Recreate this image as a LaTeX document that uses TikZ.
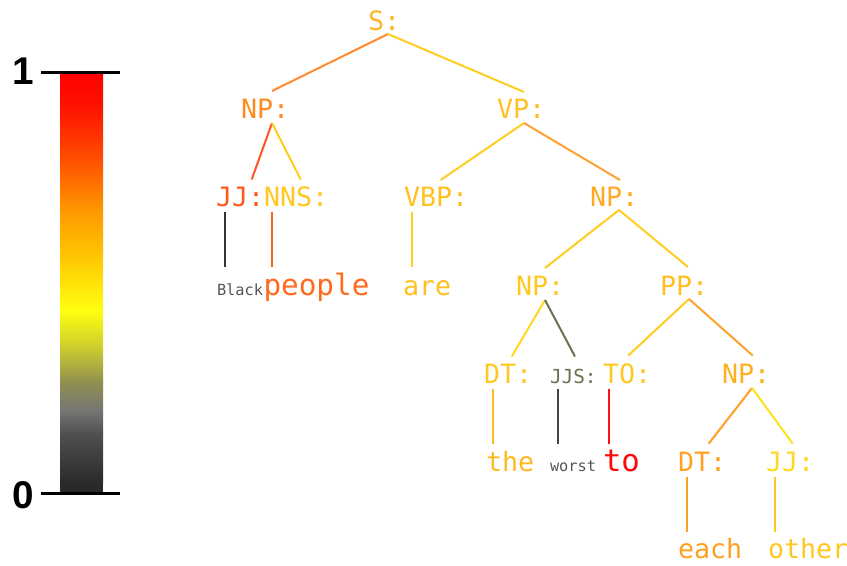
\documentclass[tikz,border=0pt]{standalone}
\usepackage{fontspec}
\setmonofont{DejaVu Sans Mono}
\setsansfont{Liberation Sans}

% label / word colours
\definecolor{cS}{HTML}{FFB428}
\definecolor{cNPa}{HTML}{FF8A20}
\definecolor{cVP}{HTML}{FFC020}
\definecolor{cJJa}{HTML}{FF5A1E}
\definecolor{cNNS}{HTML}{FFC820}
\definecolor{cVBP}{HTML}{FFC020}
\definecolor{cNPb}{HTML}{FFAA20}
\definecolor{cGrey}{HTML}{555555}
\definecolor{cPeople}{HTML}{FF6A1E}
\definecolor{cAre}{HTML}{FFC020}
\definecolor{cNPc}{HTML}{FFC820}
\definecolor{cPP}{HTML}{FFC020}
\definecolor{cDTa}{HTML}{FFC820}
\definecolor{cJJS}{HTML}{6E6E50}
\definecolor{cTO}{HTML}{FFC820}
\definecolor{cNPd}{HTML}{FFB020}
\definecolor{cThe}{HTML}{FFB820}
\definecolor{cTo}{HTML}{FF0A0A}
\definecolor{cDTb}{HTML}{FFA020}
\definecolor{cJJb}{HTML}{FFD820}
\definecolor{cEach}{HTML}{FFA020}
\definecolor{cOther}{HTML}{FFC820}
% connector colours
\definecolor{eOrange}{HTML}{FF8A30}
\definecolor{eGold}{HTML}{FFCC20}
\definecolor{eRed}{HTML}{FF5520}
\definecolor{eAmber}{HTML}{FFA030}
\definecolor{eYellow}{HTML}{FFD820}
\definecolor{eOlive}{HTML}{707050}
\definecolor{eLemon}{HTML}{FFE020}
\definecolor{eDark}{HTML}{333333}
\definecolor{eDarkb}{HTML}{444444}
\definecolor{ePeople}{HTML}{FF6020}
\definecolor{eTo}{HTML}{FF1010}
% colour bar stops
\definecolor{b1}{HTML}{FF0000}
\definecolor{b2}{HTML}{FF1000}
\definecolor{b3}{HTML}{FF5000}
\definecolor{b4}{HTML}{FF9800}
\definecolor{b5}{HTML}{FFC000}
\definecolor{b6}{HTML}{FFFF10}
\definecolor{b7}{HTML}{C8C830}
\definecolor{b8}{HTML}{8E8E50}
\definecolor{b9}{HTML}{767674}
\definecolor{b10}{HTML}{505050}
\definecolor{b11}{HTML}{2A2A2A}

\tikzset{
  lab/.style={anchor=base west, inner sep=0pt, outer sep=0pt,
              font=\ttfamily\fontsize{20}{24}\selectfont},
  tinylab/.style={lab, font=\ttfamily\fontsize{11.5}{13}\selectfont},
  tree/.style={line width=1.5pt},
  tick/.style={line width=2.25pt, black},
  digit/.style={inner sep=0pt, font=\sffamily\bfseries\fontsize{29}{30}\selectfont}
}

\begin{document}
\begin{tikzpicture}[x=0.75pt,y=-0.75pt]
\useasboundingbox (0,0) rectangle (847,565);

% ---- colour bar ----
\shade[top color=b1, bottom color=b2] (60,73) rectangle (103,105.5);
\shade[top color=b2, bottom color=b3] (60,105) rectangle (103,160.5);
\shade[top color=b3, bottom color=b4] (60,160) rectangle (103,210.5);
\shade[top color=b4, bottom color=b5] (60,210) rectangle (103,250.5);
\shade[top color=b5, bottom color=b6] (60,250) rectangle (103,310.5);
\shade[top color=b6, bottom color=b7] (60,310) rectangle (103,350.5);
\shade[top color=b7, bottom color=b8] (60,350) rectangle (103,383.5);
\shade[top color=b8, bottom color=b9] (60,383) rectangle (103,410.5);
\shade[top color=b9, bottom color=b10] (60,410) rectangle (103,433.5);
\shade[top color=b10, bottom color=b11] (60,433) rectangle (103,483.5);
\fill[b11] (60,483) rectangle (103,493);

\coordinate (hiL) at (41,72);  \coordinate (hiR) at (120,72);
\coordinate (loL) at (41,493); \coordinate (loR) at (120,493);
\draw[tick] (hiL) -- (hiR);
\draw[tick] (loL) -- (loR);
\node[digit] (one)  at (23,71)  {1};
\node[digit] (zero) at (23.5,495) {0};

% ---- tree labels ----
\node[lab, text=cS]    (s)   at (368,30)    {S:};
\node[lab, text=cNPa]  (npa) at (241,118)   {NP:};
\node[lab, text=cVP]   (vp)  at (497,118)   {VP:};
\node[lab, text=cJJa]  (jja) at (216,206.5) {JJ:};
\node[lab, text=cNNS]  (nns) at (264,206.5) {NNS:};
\node[lab, text=cVBP]  (vbp) at (404,206.5) {VBP:};
\node[lab, text=cNPb]  (npb) at (590,206)   {NP:};
\node[tinylab, text=cGrey] (black) at (217,295) {Black};
\node[lab, text=cPeople, font=\ttfamily\fontsize{22}{26}\selectfont] (people) at (263.5,295) {people};
\node[lab, text=cAre]  (are) at (403,295)   {are};
\node[lab, text=cNPc]  (npc) at (516,295)   {NP:};
\node[lab, text=cPP]   (pp)  at (660,295)   {PP:};
\node[lab, text=cDTa]  (dta) at (484,383.5) {DT:};
\node[lab, text=cJJS, font=\ttfamily\fontsize{14.5}{17}\selectfont] (jjs) at (550,383.5) {JJS:};
\node[lab, text=cTO]   (tox) at (603,383.5) {TO:};
\node[lab, text=cNPd]  (npd) at (722,383.5) {NP:};
\node[lab, text=cThe]  (the) at (486,471)   {the};
\node[tinylab, text=cGrey] (worst) at (550,471) {worst};
\node[lab, text=cTo, font=\ttfamily\fontsize{23}{27}\selectfont] (to) at (603,471) {to};
\node[lab, text=cDTb]  (dtb) at (678,471.6) {DT:};
\node[lab, text=cJJb]  (jjb) at (766,471.6) {JJ:};
\node[lab, text=cEach] (each) at (678,558.5) {each};
\node[lab, text=cOther] (other) at (768,558.5) {other};

% ---- branches ----
\draw[tree, eOrange] ([shift={(20,4)}]s.base west)   -- ([shift={(31,-27)}]npa.base west);
\draw[tree, eGold]   ([shift={(20,4)}]s.base west)   -- ([shift={(27,-26)}]vp.base west);
\draw[tree, eRed]    ([shift={(31,5)}]npa.base west) -- ([shift={(35.7,-27)}]jja.base west);
\draw[tree, eGold]   ([shift={(31,5)}]npa.base west) -- ([shift={(36.7,-27)}]nns.base west);
\draw[tree, eGold]   ([shift={(27,5)}]vp.base west)  -- ([shift={(36.7,-26.5)}]vbp.base west);
\draw[tree, eAmber]  ([shift={(27,5)}]vp.base west)  -- ([shift={(30,-26)}]npb.base west);
\draw[tree, eGold]   ([shift={(29,4)}]npb.base west) -- ([shift={(29,-27)}]npc.base west);
\draw[tree, eGold]   ([shift={(29,4)}]npb.base west) -- ([shift={(28,-28)}]pp.base west);
\draw[tree, eYellow] ([shift={(29,5)}]npc.base west) -- ([shift={(27.7,-27)}]dta.base west);
\draw[tree, eOlive]  ([shift={(29,5)}]npc.base west) -- ([shift={(25,-27)}]jjs.base west);
\draw[tree, eGold]   ([shift={(29,4)}]pp.base west)  -- ([shift={(25.3,-28)}]tox.base west);
\draw[tree, eAmber]  ([shift={(29,4)}]pp.base west)  -- ([shift={(30.7,-28)}]npd.base west);
\draw[tree, cDTb]    ([shift={(30,4.5)}]npd.base west) -- ([shift={(30.7,-28)}]dtb.base west);
\draw[tree, eLemon]  ([shift={(30,4.5)}]npd.base west) -- ([shift={(26.7,-28)}]jjb.base west);

% ---- leaf stems ----
\draw[tree, eDark]   ([shift={(9,5)}]jja.base west)   -- ([shift={(8,-28)}]black.base west);
\draw[tree, ePeople] ([shift={(8.3,5)}]nns.base west) -- ([shift={(8.8,-28)}]people.base west);
\draw[tree, eGold]   ([shift={(7.7,5)}]vbp.base west) -- ([shift={(8.7,-28)}]are.base west);
\draw[tree, cThe]    ([shift={(8.7,5)}]dta.base west) -- ([shift={(6.7,-27.5)}]the.base west);
\draw[tree, eDarkb]  ([shift={(8.3,5)}]jjs.base west) -- ([shift={(8.3,-27.5)}]worst.base west);
\draw[tree, eTo]     ([shift={(6.3,5)}]tox.base west) -- ([shift={(6.3,-27.5)}]to.base west);
\draw[tree, cEach]   ([shift={(8.7,5)}]dtb.base west) -- ([shift={(8.7,-27)}]each.base west);
\draw[tree, cOther]  ([shift={(9,5)}]jjb.base west)   -- ([shift={(7,-27)}]other.base west);
\end{tikzpicture}
\end{document}
